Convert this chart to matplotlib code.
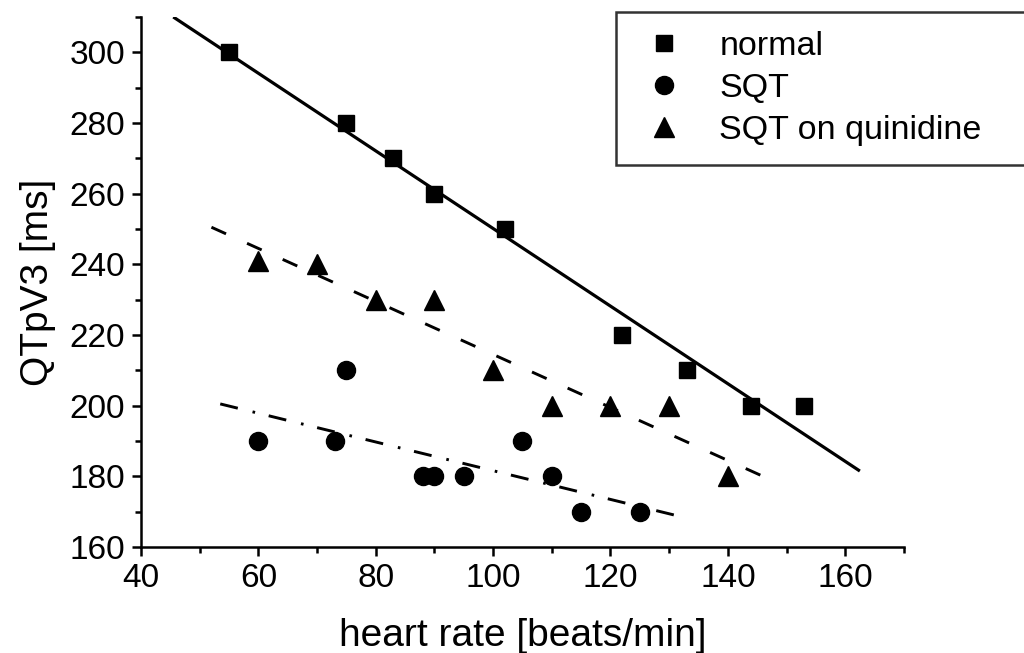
import matplotlib
matplotlib.use("Agg")
import matplotlib.pyplot as plt
from matplotlib.ticker import MultipleLocator

plt.rcParams['font.family'] = ['Liberation Sans', 'DejaVu Sans']

# data
normal_hr = [55, 75, 83, 90, 102, 122, 133, 144, 153]
normal_qt = [300, 280, 270, 260, 250, 220, 210, 200, 200]

sqt_hr = [60, 73, 75, 88, 90, 95, 105, 110, 115, 125]
sqt_qt = [190, 190, 210, 180, 180, 180, 190, 180, 170, 170]

quin_hr = [60, 70, 80, 90, 100, 110, 120, 130, 140]
quin_qt = [241, 240, 230, 230, 210, 200, 200, 200, 180]

# fitted lines (end points)
fit_normal_x = [45.5, 162.5]
fit_normal_y = [310, 181.5]
fit_quin_x = [52, 148]
fit_quin_y = [250.5, 178.5]
fit_sqt_x = [53.5, 131]
fit_sqt_y = [200.5, 169]

fig = plt.figure(figsize=(10.24, 6.53), dpi=100)
ax = fig.add_axes([0.1377, 0.1623, 0.745, 0.8117])

ax.plot(fit_normal_x, fit_normal_y, color='black', lw=2.3, solid_capstyle='butt')
ax.plot(fit_quin_x, fit_quin_y, color='black', lw=2.1, linestyle=(0, (5.5, 7.9)))
ax.plot(fit_sqt_x, fit_sqt_y, color='black', lw=2.1, linestyle=(0, (6.2, 5.2, 0.9, 4.8)))

ax.plot(normal_hr, normal_qt, 's', color='black', ms=12, label='normal')
ax.plot(sqt_hr, sqt_qt, 'o', color='black', ms=13, label='SQT')
ax.plot(quin_hr, quin_qt, '^', color='black', ms=14, label='SQT on quinidine')

ax.set_xlim(40, 170)
ax.set_ylim(160, 310)
ax.set_xticks([40, 60, 80, 100, 120, 140, 160])
ax.set_xticks([50, 70, 90, 110, 130, 150, 170], minor=True)
ax.yaxis.set_major_locator(MultipleLocator(20))
ax.yaxis.set_minor_locator(MultipleLocator(10))

for s in ['top', 'right']:
    ax.spines[s].set_visible(False)
for s in ['left', 'bottom']:
    ax.spines[s].set_linewidth(1.8)

ax.tick_params(which='major', direction='out', length=6.5, width=1.8, labelsize=24, pad=5)
ax.tick_params(which='minor', direction='out', length=4, width=1.8)

ax.set_xlabel('heart rate [beats/min]', fontsize=28, labelpad=17)
ax.set_ylabel('QTpV3 [ms]', fontsize=28, labelpad=10)

leg = fig.legend(loc='upper left', mode='expand',
                 bbox_to_anchor=(616/1024, 0.0, 414/1024, 1 - 12/653),
                 frameon=True, fancybox=False, edgecolor='black', fontsize=24.5,
                 borderpad=0.55, handletextpad=0.74, labelspacing=0.33,
                 borderaxespad=0, handlelength=1.75)
leg.get_frame().set_linewidth(1.8)

fig.savefig('out.png', dpi=100)
